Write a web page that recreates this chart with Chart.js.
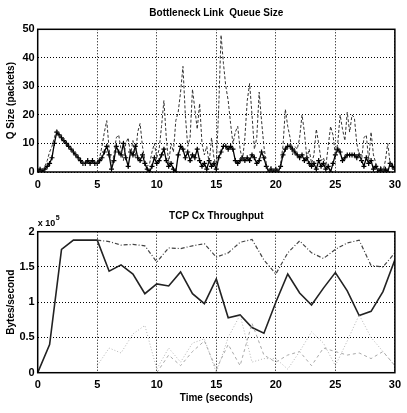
<!DOCTYPE html>
<html>
<head>
<meta charset="utf-8">
<script src="https://cdn.jsdelivr.net/npm/chart.js@4/dist/chart.umd.min.js"></script>
<style>
  html, body { margin: 0; padding: 0; background: #fff; }
  #wrap { width: 407px; height: 413px; position: relative; }
  #queue { position: absolute; left: 0; top: 0; }
  #thru { position: absolute; left: 0; top: 200px; }
</style>
</head>
<body>
<div id="wrap">
  <canvas id="queue" width="407" height="200"></canvas>
  <canvas id="thru" width="407" height="213"></canvas>
</div>
<script>
// queue size (packets), sampled every 0.2 s from 0 to 30 s
var qDark = [
  0, 1, 0, 1, 2, 3, 5, 10, 14, 13,
  12, 11, 10, 9, 8, 7, 6, 5, 4, 3,
  3, 4, 3, 4, 3, 3, 4, 5, 7, 9,
  6, 1, 4, 9, 7, 6, 10, 5, 2, 7,
  6, 9, 5, 4, 6, 3, 1, 0, 2, 5,
  3, 4, 6, 8, 4, 2, 3, 1, 0, 6,
  9, 8, 5, 7, 4, 6, 5, 8, 4, 2,
  3, 1, 4, 2, 3, 1, 5, 7, 9, 9,
  8, 9, 8, 4, 3, 4, 5, 4, 5, 4,
  6, 5, 3, 4, 7, 5, 2, 0, 1, 0,
  1, 0, 2, 6, 8, 9, 9, 8, 7, 6,
  5, 6, 4, 5, 3, 2, 3, 1, 4, 2,
  3, 1, 2, 0, 3, 6, 8, 7, 4, 5,
  6, 6, 6, 6, 5, 6, 4, 2, 5, 3,
  4, 1, 2, 0, 1, 0, 1, 0, 3, 2,
  1
];
var qDashed = [
  0, 0, 1, 2, 4, 7, 9, 12, 15, 13,
  12, 11, 10, 9, 8, 7, 6, 5, 4, 3,
  3, 3, 4, 3, 4, 3, 5, 9, 14, 18,
  8, 2, 6, 12, 13, 8, 4, 10, 12, 6,
  11, 5, 14, 17, 9, 4, 2, 3, 7, 10,
  5, 8, 16, 25, 12, 3, 10, 7, 18, 21,
  28, 37, 20, 9, 12, 29, 22, 15, 24, 10,
  6, 9, 3, 12, 5, 2, 22, 48, 38, 30,
  25, 17, 10, 14, 16, 8, 4, 12, 25, 31,
  20, 8, 12, 28, 18, 9, 3, 0, 2, 0,
  1, 0, 3, 9, 22, 16, 12, 6, 9, 8,
  12, 20, 14, 5, 8, 3, 6, 15, 10, 4,
  5, 2, 9, 16, 13, 6, 10, 20, 15, 11,
  21, 14, 20, 19, 10, 6, 4, 12, 13, 4,
  14, 6, 3, 1, 2, 0, 4, 10, 3, 1,
  0
];
var qTime = qDark.map(function (_, i) { return +(i * 0.2).toFixed(1); });

// throughput, x 10^5 bytes/second, one value per second 0..30
var secs = [0,1,2,3,4,5,6,7,8,9,10,11,12,13,14,15,16,17,18,19,20,21,22,23,24,25,26,27,28,29,30];
var cx1 = [0, 0.4, 1.75, 1.88, 1.88, 1.88, 1.44, 1.53, 1.40, 1.12, 1.26, 1.23, 1.43, 1.12, 0.98, 1.33,
  0.78, 0.82, 0.64, 0.56, 1.0, 1.4, 1.13, 0.96, 1.2, 1.42, 1.16, 0.81, 0.87, 1.15, 1.6];
var cx2 = [null, null, null, null, null, 1.88, 1.86, 1.81, 1.82, 1.80, 1.57, 1.77, 1.76, 1.80, 1.83, 1.64,
  1.70, 1.85, 1.89, 1.60, 1.40, 1.70, 1.87, 1.70, 1.62, 1.75, 1.84, 1.88, 1.52, 1.50, 1.70];
var cx3 = [null, null, null, null, null, 0.1, 0.35, 0.28, 0.55, 0.67, 0.05, 0.35, 0.15, 0.42, 0.48, 0.0,
  0.5, 0.82, 0.15, 0.2, 0.2, 0.05, 0.3, 0.58, 0.42, 0.1, 0.45, 0.82, 0.5, 0.3, 0.1];
var cx4 = [null, null, null, null, null, null, null, null, null, null, 0, 0.25, 0.1, 0.3, 0.45, 0.05,
  0.4, 0.1, 0.7, 0.25, 0.15, 0.25, 0.3, 0.1, 0.35, 0.3, 0.25, 0.28, 0.2, 0.3, 0.1];
var cx5 = [null, null, null, null, null, null, null, null, null, null, 0, 0, 0, 0, 0, 0,
  0, 0, 0, 0, 0, 0, 0, 0, 0, 0, 0, 0, 0, 0, 0];

var xTicks = [0, 5, 10, 15, 20, 25, 30];
var qTicks = [0, 10, 20, 30, 40, 50];
var tTicks = [0, 0.5, 1, 1.5, 2];

var FONT = "'Liberation Sans', Arial, sans-serif";

function pts(xs, ys) {
  return xs.map(function (x, i) { return { x: x, y: ys[i] }; });
}

var frame = {
  id: 'frame',
  afterDatasetsDraw: function (chart) {
    var a = chart.chartArea, ctx = chart.ctx;
    ctx.save();
    ctx.strokeStyle = '#000';
    ctx.lineWidth = 1.5;
    ctx.strokeRect(a.left, a.top, a.right - a.left, a.bottom - a.top);
    ctx.restore();
  }
};

var expo = {
  id: 'expo',
  afterDraw: function (chart) {
    if (chart.canvas.id !== 'thru') return;
    var ctx = chart.ctx, a = chart.chartArea;
    ctx.save();
    ctx.fillStyle = '#000';
    ctx.font = 'bold 9px ' + FONT;
    ctx.textBaseline = 'alphabetic';
    ctx.fillText('x 10', a.left, 26);
    ctx.font = 'bold 7px ' + FONT;
    ctx.fillText('5', a.left + 18, 20);
    ctx.restore();
  }
};

function xScale(title) {
  var s = {
    type: 'linear', min: 0, max: 30,
    afterBuildTicks: function (sc) { sc.ticks = xTicks.map(function (v) { return { value: v }; }); },
    afterFit: function (sc) { sc.height = title ? 40.3 : 28; },
    grid: { color: '#000', lineWidth: 1, drawTicks: false },
    border: { display: false, dash: [1, 2] },
    ticks: { padding: 6, color: '#000', maxRotation: 0, font: { family: FONT, size: 11, weight: 'bold' } }
  };
  if (title) {
    s.title = { display: true, text: title, color: '#000', padding: { top: 0, bottom: 9 },
      font: { family: FONT, size: 10, weight: 'bold' } };
  }
  return s;
}

function yScale(max, ticks, title) {
  return {
    min: 0, max: max,
    afterBuildTicks: function (sc) { sc.ticks = ticks.map(function (v) { return { value: v }; }); },
    afterFit: function (sc) { sc.width = 37.7; },
    grid: { color: '#000', lineWidth: 1, drawTicks: false },
    border: { display: false, dash: [1, 2] },
    ticks: { padding: 3, color: '#000', font: { family: FONT, size: 11, weight: 'bold' },
      callback: function (v) { return String(v); } },
    title: { display: true, text: title, color: '#000', padding: { top: 5, bottom: 0 },
      font: { family: FONT, size: 10, weight: 'bold' } }
  };
}

function baseOpts(title, padTop, padBottom) {
  return {
    responsive: false,
    animation: false,
    layout: { padding: { left: 0, right: 6, top: 0, bottom: 0 } },
    plugins: {
      legend: { display: false },
      tooltip: { enabled: false },
      title: { display: true, text: title, fullSize: false, color: '#000',
        padding: { top: padTop, bottom: padBottom },
        font: { family: FONT, size: 10, weight: 'bold' } }
    }
  };
}

var o1 = baseOpts('Bottleneck Link  Queue Size', 7.5, 9.8);
o1.scales = { x: xScale(null), y: yScale(50, qTicks, 'Q Size (packets)') };

new Chart(document.getElementById('queue'), {
  type: 'line',
  data: {
    datasets: [
      { data: pts(qTime, qDashed), borderColor: '#333', borderWidth: 1, borderDash: [3, 2],
        pointRadius: 0, tension: 0 },
      { data: pts(qTime, qDark), borderColor: '#000', borderWidth: 1.3, pointStyle: 'cross',
        pointRadius: 2.5, pointBorderColor: '#000', pointBorderWidth: 1.2, tension: 0 }
    ]
  },
  options: o1,
  plugins: [frame]
});

var o2 = baseOpts('TCP Cx Throughput', 10, 9.7);
o2.scales = { x: xScale('Time (seconds)'), y: yScale(2, tTicks, 'Bytes/second') };

new Chart(document.getElementById('thru'), {
  type: 'line',
  data: {
    datasets: [
      { data: pts(secs, cx3), borderColor: '#b5b5b5', borderWidth: 1, borderDash: [1, 2], pointRadius: 0, tension: 0 },
      { data: pts(secs, cx4), borderColor: '#a8a8a8', borderWidth: 1, borderDash: [3, 3], pointRadius: 0, tension: 0 },
      { data: pts(secs, cx5), borderColor: '#222', borderWidth: 1.5, pointRadius: 0, tension: 0 },
      { data: pts(secs, cx2), borderColor: '#444', borderWidth: 1.2, borderDash: [4, 2, 1, 2], pointRadius: 0, tension: 0 },
      { data: pts(secs, cx1), borderColor: '#222', borderWidth: 1.6, pointRadius: 0, tension: 0 }
    ]
  },
  options: o2,
  plugins: [frame, expo]
});
</script>
</body>
</html>
